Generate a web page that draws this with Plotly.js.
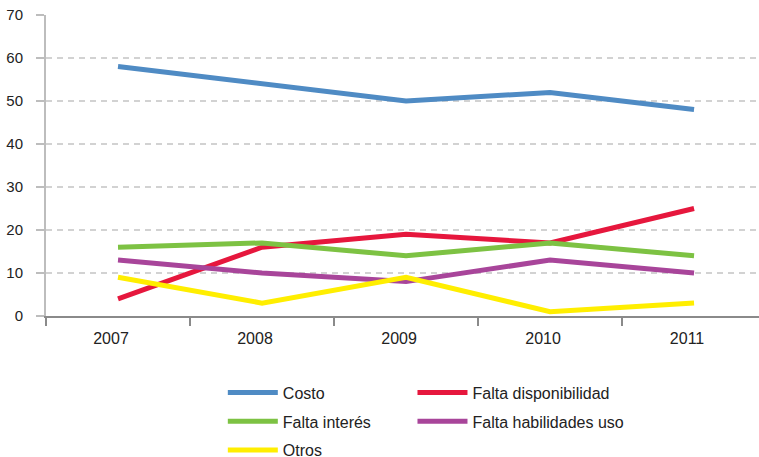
<!DOCTYPE html>
<html>
<head>
<meta charset="utf-8">
<script src="https://cdn.plot.ly/plotly-3.0.1.min.js"></script>
<style>html,body{margin:0;padding:0;background:#fff;}#chart{width:759px;height:457px;}</style>
</head>
<body>
<div id="chart"></div>
<script>
const years = ['2007', '2008', '2009', '2010', '2011'];
const costo = [58, 54, 50, 52, 48];
const faltaDisponibilidad = [4, 16, 19, 17, 25];
const faltaInteres = [16, 17, 14, 17, 14];
const faltaHabilidades = [13, 10, 8, 13, 10];
const otros = [9, 3, 9, 1, 3];
const yTicks = [0, 10, 20, 30, 40, 50, 60, 70];

function tr(name, y, color, legend, group) {
  return {
    type: 'scatter', mode: 'lines', x: years, y: y, name: name,
    line: {color: color, width: 5},
    legend: legend, legendgroup: group
  };
}

const traces = [
  tr('Costo', costo, '#4F8BC4', 'legend', 'a'),
  tr('Falta disponibilidad', faltaDisponibilidad, '#E6173D', 'legend2', 'b'),
  tr('Falta interés', faltaInteres, '#7DC243', 'legend', 'c'),
  tr('Falta habilidades uso', faltaHabilidades, '#A8459A', 'legend2', 'd'),
  tr('Otros', otros, '#FFEE00', 'legend', 'e')
];
const legendCommon = {
  orientation: 'v', xanchor: 'left', yanchor: 'top', y: -0.198,
  font: {family: 'Liberation Sans, Arial, sans-serif', size: 16, color: '#222'},
  tracegroupgap: 5, itemwidth: 50, bgcolor: 'rgba(0,0,0,0)', traceorder: 'grouped'
};

const layout = {
  width: 759, height: 457,
  margin: {l: 46, r: 0, t: 15, b: 141, autoexpand: false},
  paper_bgcolor: '#fff', plot_bgcolor: '#fff',
  font: {family: 'Liberation Sans, Arial, sans-serif', size: 16, color: '#222'},
  showlegend: true,
  legend: Object.assign({}, legendCommon, {x: 0.248}),
  legend2: Object.assign({}, legendCommon, {x: 0.514}),
  xaxis: {
    type: 'category', range: [-0.5, 4.451],
    showgrid: false, zeroline: false,
    showline: true, linecolor: '#8a8a8a', linewidth: 2,
    ticks: 'outside', tickson: 'boundaries', ticklen: 8, tickcolor: '#8a8a8a', tickwidth: 1.5,
    tickfont: {size: 16, color: '#222'}, ticklabelstandoff: 7, ticklabelshift: -7
  },
  yaxis: {
    range: [0, 70], tickvals: yTicks, ticktext: yTicks.map(String),
    showgrid: true, gridcolor: '#d2d2d2', gridwidth: 1.5, griddash: '6px,5px',
    zeroline: false, showline: true, linecolor: '#bdbdbd', linewidth: 2,
    ticks: 'outside', ticklen: 8, tickcolor: '#bdbdbd', tickwidth: 1.5,
    tickfont: {size: 15, color: '#222'}, ticklabelstandoff: 10
  }
};

Plotly.newPlot('chart', traces, layout, {displayModeBar: false, staticPlot: true});
</script>
</body>
</html>
